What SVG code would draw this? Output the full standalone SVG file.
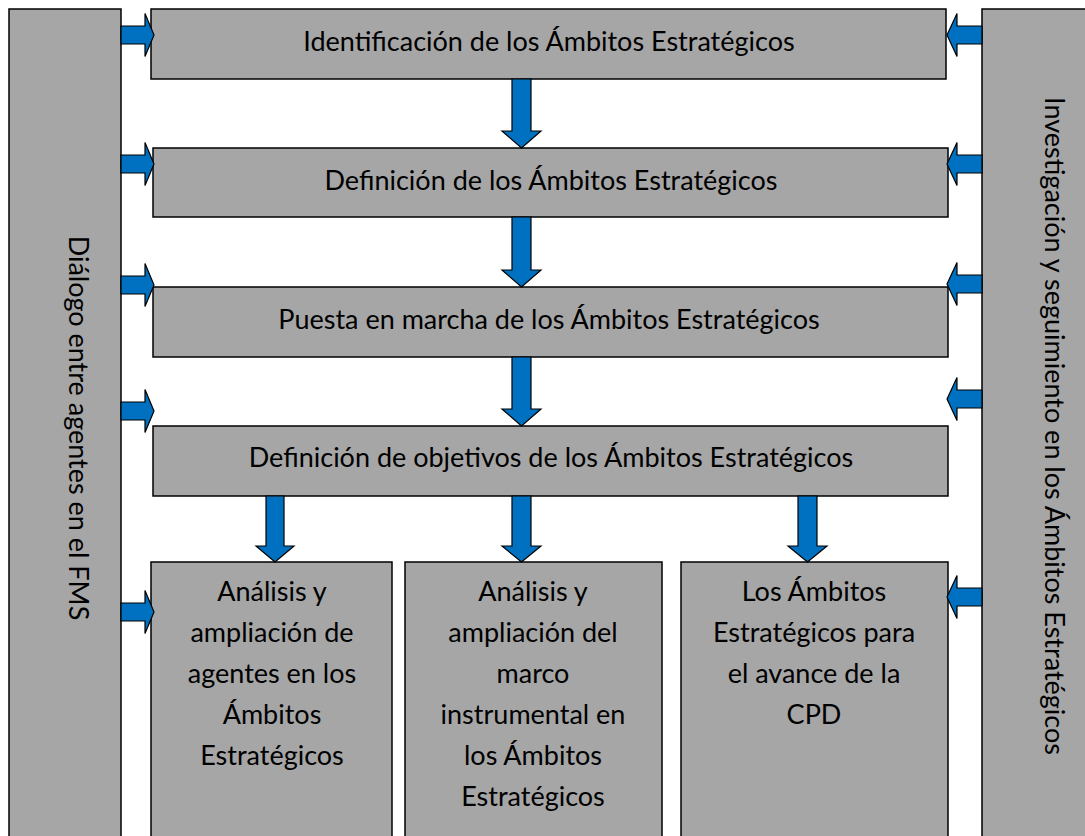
<svg xmlns="http://www.w3.org/2000/svg" width="1085" height="836" viewBox="0 0 1085 836">
<style>
.box{fill:#a6a6a6;stroke:#000;stroke-width:1.5}
.arr{fill:#0070c0;stroke:#000;stroke-width:1.2;stroke-linejoin:miter}
text{font-family:Lato,"Liberation Sans",sans-serif;font-size:27px;fill:#000;text-anchor:middle}
</style>
<rect width="1085" height="836" fill="#fff"/>
<g id="panel-left">
<rect class="box" x="9" y="9" width="112" height="840"/>
<text transform="translate(69,428) rotate(90)">Diálogo entre agentes en el FMS</text>
</g>
<g id="panel-right">
<rect class="box" x="982" y="9" width="110" height="840"/>
<text transform="translate(1045,426) rotate(90)">Investigación y seguimiento en los Ámbitos Estratégicos</text>
</g>
<g id="box1">
<rect class="box" x="151" y="9" width="795" height="70"/>
<text x="549" y="51">Identificación de los Ámbitos Estratégicos</text>
</g>
<g id="box2">
<rect class="box" x="153" y="148" width="795" height="69"/>
<text x="551" y="190">Definición de los Ámbitos Estratégicos</text>
</g>
<g id="box3">
<rect class="box" x="153" y="287" width="795" height="70"/>
<text x="549" y="329">Puesta en marcha de los Ámbitos Estratégicos</text>
</g>
<g id="box4">
<rect class="box" x="153" y="426" width="795" height="70"/>
<text x="551" y="467">Definición de objetivos de los Ámbitos Estratégicos</text>
</g>
<g id="boxA">
<rect class="box" x="151" y="562" width="241" height="290"/>
<text x="272" y="601">Análisis y</text>
<text x="272" y="642">ampliación de</text>
<text x="272" y="683">agentes en los</text>
<text x="272" y="724">Ámbitos</text>
<text x="272" y="765">Estratégicos</text>
</g>
<g id="boxB">
<rect class="box" x="405" y="562" width="257" height="290"/>
<text x="533" y="601">Análisis y</text>
<text x="533" y="642">ampliación del</text>
<text x="533" y="683">marco</text>
<text x="533" y="724">instrumental en</text>
<text x="533" y="765">los Ámbitos</text>
<text x="533" y="806">Estratégicos</text>
</g>
<g id="boxC">
<rect class="box" x="681" y="562" width="267" height="290"/>
<text x="814" y="601">Los Ámbitos</text>
<text x="814" y="642">Estratégicos para</text>
<text x="814" y="683">el avance de la</text>
<text x="814" y="724">CPD</text>
</g>
<g id="connectors">
<defs>
<path id="ar" d="M0,-9 L24,-9 L24,-21.5 L33,0 L24,21.5 L24,9 L0,9 Z"/>
<path id="al" d="M0,-9 L-25,-9 L-25,-21.5 L-35,0 L-25,21.5 L-25,9 L0,9 Z"/>
</defs>
<use href="#ar" class="arr" x="121" y="35"/>
<use href="#ar" class="arr" x="121" y="164"/>
<use href="#ar" class="arr" x="121" y="285"/>
<use href="#ar" class="arr" x="121" y="411"/>
<use href="#ar" class="arr" x="121" y="612"/>
<use href="#al" class="arr" x="982" y="35"/>
<use href="#al" class="arr" x="982" y="164"/>
<use href="#al" class="arr" x="982" y="284"/>
<use href="#al" class="arr" x="982" y="399"/>
<use href="#al" class="arr" x="982" y="597"/>
<path class="arr" d="M512,79 L531,79 L531,131 L541,131 L521.5,148 L502,131 L512,131 Z"/>
<path class="arr" d="M512,217 L531,217 L531,270 L541,270 L521.5,287 L502,270 L512,270 Z"/>
<path class="arr" d="M512,357 L531,357 L531,409 L541,409 L521.5,426 L502,409 L512,409 Z"/>
<path class="arr" d="M266,496 L284,496 L284,546 L294,546 L275,562 L256,546 L266,546 Z"/>
<path class="arr" d="M512,496 L531,496 L531,546 L541,546 L521.5,562 L502,546 L512,546 Z"/>
<path class="arr" d="M798,496 L817,496 L817,546 L827,546 L807.5,562 L788,546 L798,546 Z"/>
</g>
</svg>
